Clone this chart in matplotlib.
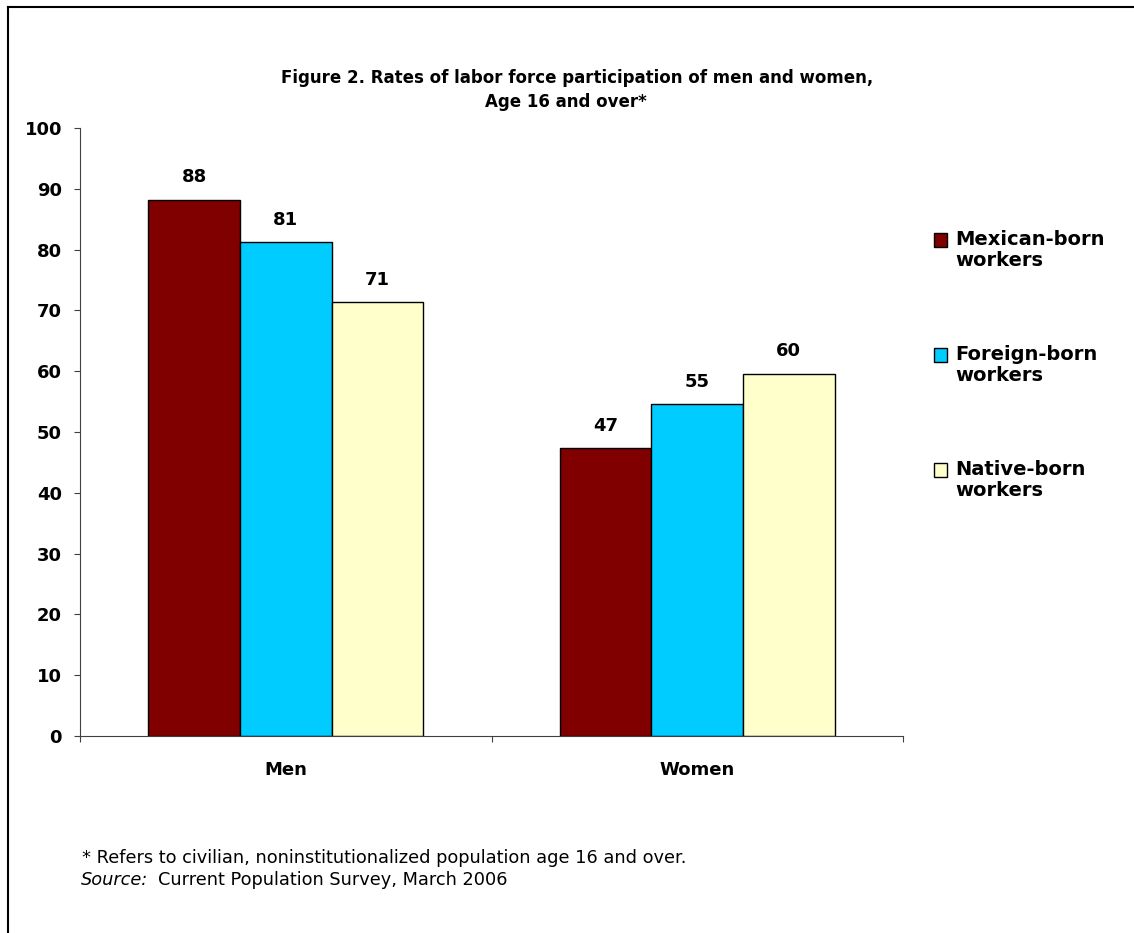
import numpy as np
import matplotlib
matplotlib.use('Agg')
import matplotlib.pyplot as plt
from matplotlib.lines import Line2D
from matplotlib.patches import Rectangle

plt.rcParams['font.family'] = ['DejaVu Sans']

groups = ['Men', 'Women']
series = ['Mexican-born\nworkers', 'Foreign-born\nworkers', 'Native-born\nworkers']
mexican = [88.2, 47.3]
foreign = [81.2, 54.6]
native = [71.4, 59.6]
colors = ['#800000', '#00CCFF', '#FFFFCC']

W, H = 1134, 933
fig = plt.figure(figsize=(W/100, H/100), dpi=100)
ax = fig.add_axes([80/W, 1-736/H, 823/W, 608/H])

x = np.arange(len(groups))
w = 0.2224
for i, (vals, c) in enumerate(zip([mexican, foreign, native], colors)):
    bars = ax.bar(x + (i-1)*w, vals, w, color=c, edgecolor='black', linewidth=1)
    for b, v in zip(bars, vals):
        ax.text(b.get_x() + b.get_width()/2, v + 2.2, '%.0f' % v, ha='center', va='bottom',
                fontsize=13, fontweight='bold')

ax.set_xlim(-0.5, 1.5)
ax.set_ylim(0, 100)
ax.set_yticks(np.arange(0, 101, 10))
ax.set_xticks([-0.5, 0.5, 1.5])
ax.set_xticklabels([])
ax.set_xticks(x, minor=True)
ax.set_xticklabels(groups, minor=True, fontsize=13, fontweight='bold')
ax.tick_params(axis='x', which='minor', length=0, pad=18)
ax.tick_params(axis='x', which='major', length=4.5, direction='out', color='#404040')
ax.tick_params(axis='y', length=4, direction='out', color='#404040', labelsize=13, pad=9)
for t in ax.get_yticklabels():
    t.set_fontweight('bold')
for s in ['top', 'right']:
    ax.spines[s].set_visible(False)
for s in ['left', 'bottom']:
    ax.spines[s].set_color('#404040')

# legend, drawn by hand so the swatch sits on the first line
for k, (lab, c) in enumerate(zip(series, colors)):
    yc = 240 + k*115
    fig.add_artist(Rectangle((934/W, 1-(yc+7)/H), 13/W, 14/H, facecolor=c,
                             edgecolor='black', linewidth=1, transform=fig.transFigure))
    fig.text(955/W, 1-(yc-10)/H, lab, ha='left', va='top', fontsize=14,
             fontweight='bold', linespacing=1.1)

fig.text(577/W, 1-78/H, 'Figure 2. Rates of labor force participation of men and women,',
         ha='center', va='center', fontsize=12, fontweight='bold')
fig.text(566/W, 1-102/H, 'Age 16 and over*', ha='center', va='center', fontsize=12, fontweight='bold')

fig.text(82/W, 1-858/H, '* Refers to civilian, noninstitutionalized population age 16 and over.',
         ha='left', va='center', fontsize=12.8)
fig.text(81/W, 1-880/H, 'Source:', ha='left', va='center', fontsize=12.8, style='italic')
fig.text(158/W, 1-880/H, 'Current Population Survey, March 2006', ha='left', va='center', fontsize=12.8)

fig.add_artist(Line2D([8/W, 8/W], [0, 1-7/H], color='black', lw=1.5))
fig.add_artist(Line2D([8/W, 1], [1-7/H, 1-7/H], color='black', lw=1.5))

fig.savefig('out.png', dpi=100)
